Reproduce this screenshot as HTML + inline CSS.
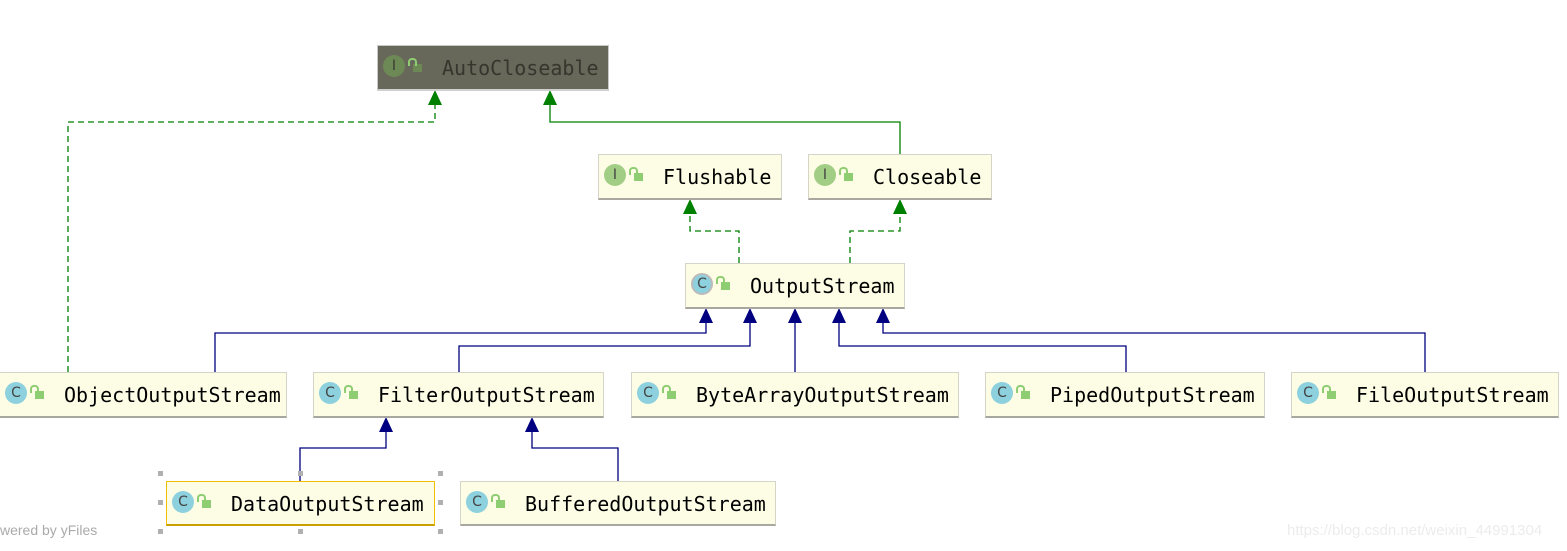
<!DOCTYPE html>
<html><head><meta charset="utf-8"><style>
body{margin:0;width:1567px;height:551px;background:#fff;position:relative;overflow:hidden;font-family:"DejaVu Sans Mono","Liberation Mono",monospace}
.n{position:absolute;height:43px;background:#fdfde5;border:1px solid #d4d4c8;border-bottom:2px solid #a8a8a0;box-sizing:border-box;}
.n .ic{position:absolute;left:5px;top:9px;width:22px;height:22px;border-radius:50%;background:#8dd0de;color:#444;font:14px "DejaVu Sans",sans-serif;display:flex;align-items:center;justify-content:center}
.n .ic.i{background:#a2cd84}
.n .lk{position:absolute;left:35px;top:18px;width:9px;height:8px;background:#8fcd72}
.n .lk:before{content:"";position:absolute;left:-5px;top:-6px;width:5px;height:6px;border:2px solid #8fcd72;border-bottom:none;border-radius:4px 4px 0 0}
.n .t{position:absolute;left:64px;top:10px;font-size:20px;line-height:24px;color:#000;white-space:pre}
</style></head><body>
<svg width="1567" height="551" style="position:absolute;left:0;top:0">
<g fill="none" stroke-width="1.3">
<polyline points="68,372 68,122 435,122 435,100" stroke="#008000" stroke-dasharray="6,4"/>
<polyline points="900,154 900,122 550,122 550,100" stroke="#008000"/>
<polyline points="739,263 739,231 690,231 690,209" stroke="#008000" stroke-dasharray="6,4"/>
<polyline points="850,263 850,231 900,231 900,209" stroke="#008000" stroke-dasharray="6,4"/>
<polyline points="215,372 215,333 706,333 706,318" stroke="#000080"/>
<polyline points="459,372 459,346 750,346 750,318" stroke="#000080"/>
<polyline points="795,372 795,318" stroke="#000080"/>
<polyline points="1126,372 1126,346 839,346 839,318" stroke="#000080"/>
<polyline points="1425,372 1425,333 883,333 883,318" stroke="#000080"/>
<polyline points="300,481 300,448 386,448 386,427" stroke="#000080"/>
<polyline points="618,481 618,448 532,448 532,427" stroke="#000080"/>
</g>
<g fill="#008000">
<polygon points="435,90 428,105 442,105"/><polygon points="550,90 543,105 557,105"/>
<polygon points="690,199 683,214 697,214"/><polygon points="900,199 893,214 907,214"/>
</g>
<g fill="#000080">
<polygon points="706,308 699,323 713,323"/><polygon points="750,308 743,323 757,323"/>
<polygon points="795,308 788,323 802,323"/><polygon points="839,308 832,323 846,323"/>
<polygon points="883,308 876,323 890,323"/>
<polygon points="386,417 379,432 393,432"/><polygon points="532,417 525,432 539,432"/>
</g>
<g fill="#b0b0b0">
<rect x="158" y="471" width="5" height="5"/><rect x="298" y="471" width="5" height="5"/><rect x="438" y="471" width="5" height="5"/>
<rect x="158" y="500" width="5" height="5"/><rect x="438" y="500" width="5" height="5"/>
<rect x="158" y="529" width="5" height="5"/><rect x="298" y="529" width="5" height="5"/><rect x="438" y="529" width="5" height="5"/>
</g>
</svg>
<div class="n" style="left:377px;top:45px;width:232px;height:46px;background:#67675a;border-color:#c8c8c8;border-bottom:2px solid #d0d0d0"><div class="ic i" style="background:#6d8a56;color:#3a3a30">I</div><div class="lk" style="background:#6d8a56"></div><div class="t" style="color:#36362e">AutoCloseable</div></div>
<div class="n" style="left:598px;top:154px;width:184px;height:46px"><div class="ic i">I</div><div class="lk"></div><div class="t">Flushable</div></div>
<div class="n" style="left:808px;top:154px;width:184px;height:46px"><div class="ic i">I</div><div class="lk"></div><div class="t">Closeable</div></div>
<div class="n" style="left:685px;top:263px;width:220px;height:46px"><div class="ic" style="border:2px solid #bbb;width:18px;height:18px">C</div><div class="lk"></div><div class="t">OutputStream</div></div>
<div class="n" style="left:-1px;top:372px;width:288px;height:46px"><div class="ic">C</div><div class="lk"></div><div class="t">ObjectOutputStream</div></div>
<div class="n" style="left:313px;top:372px;width:291px;height:46px"><div class="ic">C</div><div class="lk"></div><div class="t">FilterOutputStream</div></div>
<div class="n" style="left:631px;top:372px;width:328px;height:46px"><div class="ic">C</div><div class="lk"></div><div class="t">ByteArrayOutputStream</div></div>
<div class="n" style="left:985px;top:372px;width:280px;height:46px"><div class="ic">C</div><div class="lk"></div><div class="t">PipedOutputStream</div></div>
<div class="n" style="left:1291px;top:372px;width:268px;height:46px"><div class="ic">C</div><div class="lk"></div><div class="t">FileOutputStream</div></div>
<div class="n" style="left:166px;top:481px;width:269px;height:45px;border:1px solid #f0c000;border-bottom:2px solid #c8a000"><div class="ic">C</div><div class="lk"></div><div class="t">DataOutputStream</div></div>
<div class="n" style="left:460px;top:481px;width:316px;height:45px"><div class="ic">C</div><div class="lk"></div><div class="t">BufferedOutputStream</div></div>
<div style="position:absolute;left:0;top:522px;font:14px 'Liberation Sans',sans-serif;color:#aaa">wered by yFiles</div>
<div style="position:absolute;left:1287px;top:522px;font:15px 'Liberation Sans',sans-serif;color:#ececec">https://blog.csdn.net/weixin_44991304</div>
</body></html>
